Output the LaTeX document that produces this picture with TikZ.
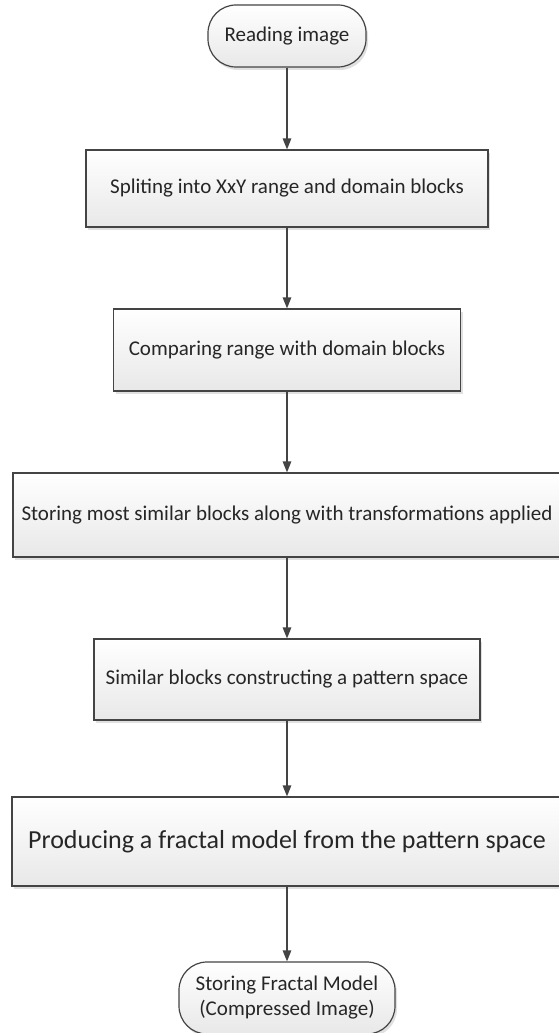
\documentclass[tikz,border=0pt]{standalone}
\usepackage{fontspec}
\setmainfont{Carlito}
\usetikzlibrary{arrows.meta,shadows}
\definecolor{edge}{HTML}{444444}
\definecolor{txt}{HTML}{262626}
\definecolor{shadeb}{HTML}{E8E8E8}
\begin{document}
\begin{tikzpicture}[x=1pt,y=-1pt,
  base/.style={draw=edge, line width=1.2pt, top color=white, bottom color=shadeb,
    text=txt, font=\fontsize{21}{25}\selectfont, align=center, inner sep=0pt,
    drop shadow={shadow xshift=2pt, shadow yshift=-3pt, fill=black, opacity=0.12}},
  procbox/.style={base, rectangle},
  termbox/.style={base, rectangle, rounded corners=28pt},
  flow/.style={draw=edge, line width=1.2pt, -{Triangle[length=11pt,width=8.5pt]}}]
\useasboundingbox (0,0) rectangle (559,1033);
\node[termbox, minimum width=158pt, minimum height=62pt] (t1) at (287,36) {Reading image};
\node[procbox, minimum width=402pt, minimum height=77pt] (b2) at (287,188.5) {Spliting into XxY range and domain blocks};
\node[procbox, minimum width=347pt, minimum height=82pt] (b3) at (287,350) {Comparing range with domain blocks};
\node[procbox, minimum width=548pt, minimum height=84pt] (b4) at (287,515) {Storing most similar blocks along with transformations applied};
\node[procbox, minimum width=386pt, minimum height=81pt] (b5) at (287,679.5) {Similar blocks constructing a pattern space};
\node[procbox, minimum width=550pt, minimum height=89pt, font=\fontsize{26}{30}\selectfont] (b6) at (287,841.5) {Producing a fractal model from the pattern space};
\node[termbox, minimum width=216pt, minimum height=72pt] (t2) at (287,998) {Storing Fractal Model\\(Compressed Image)};
\draw[flow] (t1) -- (b2);
\draw[flow] (b2) -- (b3);
\draw[flow] (b3) -- (b4);
\draw[flow] (b4) -- (b5);
\draw[flow] (b5) -- (b6);
\draw[flow] (b6) -- (t2);
\end{tikzpicture}
\end{document}
